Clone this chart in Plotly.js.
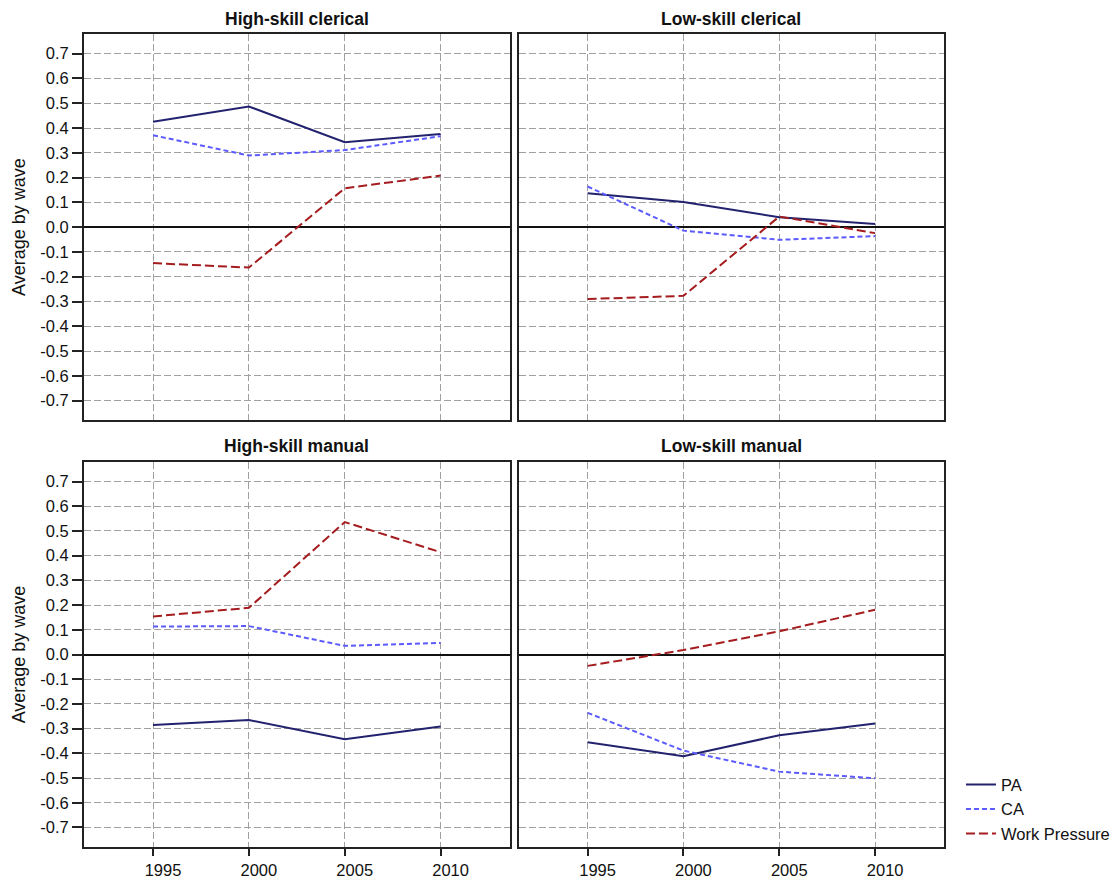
<!DOCTYPE html>
<html>
<head>
<meta charset="utf-8">
<script src="https://cdn.plot.ly/plotly-3.0.1.min.js"></script>
<style>html,body{margin:0;padding:0;background:#fff;}#chart{width:1120px;height:880px;}</style>
</head>
<body>
<div id="chart"></div>
<script>
// ---- data ----
var years = [1995, 2000, 2005, 2010];
var seriesNames = ["PA", "CA", "Work Pressure"];
var panelTitles = ["High-skill clerical", "Low-skill clerical", "High-skill manual", "Low-skill manual"];

var hscPA = [0.425, 0.487, 0.343, 0.376];
var hscCA = [0.371, 0.289, 0.311, 0.367];
var hscWP = [-0.145, -0.163, 0.157, 0.208];

var lscPA = [0.137, 0.102, 0.040, 0.013];
var lscCA = [0.164, -0.014, -0.051, -0.036];
var lscWP = [-0.290, -0.277, 0.043, -0.024];

var hsmPA = [-0.285, -0.265, -0.343, -0.291];
var hsmCA = [0.113, 0.115, 0.035, 0.047];
var hsmWP = [0.154, 0.189, 0.536, 0.414];

var lsmPA = [-0.355, -0.412, -0.327, -0.279];
var lsmCA = [-0.236, -0.389, -0.474, -0.501];
var lsmWP = [-0.046, 0.018, 0.094, 0.181];

var yTickVals = [0.7, 0.6, 0.5, 0.4, 0.3, 0.2, 0.1, 0.0, -0.1, -0.2, -0.3, -0.4, -0.5, -0.6, -0.7];
var yTickText = ["0.7", "0.6", "0.5", "0.4", "0.3", "0.2", "0.1", "0.0", "-0.1", "-0.2", "-0.3", "-0.4", "-0.5", "-0.6", "-0.7"];
var yTitle = "Average by wave";

// ---- styles ----
var FONT = "Liberation Sans, Arial, sans-serif";
var seriesStyles = [
  {color: "#23226e", width: 2, dash: "solid"},
  {color: "#5b5bff", width: 2, dash: "5px,3px"},
  {color: "#a51c1f", width: 2, dash: "9px,4px"}
];
var panels = [
  [hscPA, hscCA, hscWP],
  [lscPA, lscCA, lscWP],
  [hsmPA, hsmCA, hsmWP],
  [lsmPA, lsmCA, lsmWP]
];

var traces = [];
panels.forEach(function (series, p) {
  var suf = p === 0 ? "" : String(p + 1);
  series.forEach(function (vals, s) {
    traces.push({
      type: "scatter", mode: "lines",
      x: years, y: vals,
      name: seriesNames[s],
      legendgroup: seriesNames[s],
      showlegend: p === 0,
      line: seriesStyles[s],
      xaxis: "x" + suf, yaxis: "y" + suf,
      hoverinfo: "x+y+name"
    });
  });
});

var xDomL = [0.075, 0.455], xDomR = [0.463, 0.843];
var yDomT = [0.5227, 0.961], yDomB = [0.0378, 0.4747];

function xAxis(domain, anchor, bottom) {
  return {
    domain: domain, anchor: anchor,
    range: [1991.4, 2013.6],
    tickvals: years, ticktext: years.map(String),
    showticklabels: bottom,
    ticks: bottom ? "outside" : "", ticklen: 7, tickwidth: 1.5, tickcolor: "#222",
    ticklabelshift: 10,
    showgrid: true, gridcolor: "#a0a0a0", gridwidth: 1.2, griddash: "7px,3px",
    zeroline: false,
    showline: true, mirror: true, linecolor: "#222", linewidth: 2,
    tickfont: {family: FONT, size: 16.5, color: "#111"},
    fixedrange: true
  };
}
function yAxis(domain, anchor, left) {
  var a = {
    domain: domain, anchor: anchor,
    range: [-0.778, 0.778],
    tickvals: yTickVals, ticktext: yTickText,
    showticklabels: left,
    ticks: left ? "outside" : "", ticklen: 10, tickwidth: 1.5, tickcolor: "#222",
    showgrid: true, gridcolor: "#a0a0a0", gridwidth: 1.2, griddash: "7px,3px",
    zeroline: true, zerolinecolor: "#111", zerolinewidth: 1.5,
    showline: true, mirror: true, linecolor: "#222", linewidth: 2,
    tickfont: {family: FONT, size: 16.5, color: "#111"},
    fixedrange: true
  };
  if (left) a.title = {text: yTitle, font: {family: FONT, size: 18, color: "#111"}, standoff: 10};
  return a;
}

var titlePos = [
  {x: (xDomL[0] + xDomL[1]) / 2, y: 1 - 19 / 880},
  {x: (xDomR[0] + xDomR[1]) / 2, y: 1 - 19 / 880},
  {x: (xDomL[0] + xDomL[1]) / 2, y: 1 - 446 / 880},
  {x: (xDomR[0] + xDomR[1]) / 2, y: 1 - 446 / 880}
];
var annotations = panelTitles.map(function (t, i) {
  return {
    text: "<b>" + t + "</b>", xref: "paper", yref: "paper",
    x: titlePos[i].x, y: titlePos[i].y, xanchor: "center", yanchor: "middle",
    showarrow: false, font: {family: FONT, size: 17.5, color: "#111"}
  };
});

var layout = {
  width: 1120, height: 880,
  margin: {l: 0, r: 0, t: 0, b: 0},
  paper_bgcolor: "#fff", plot_bgcolor: "#fff",
  font: {family: FONT, color: "#111"},
  showlegend: true,
  legend: {
    x: 0.858, y: 0.128, xanchor: "left", yanchor: "top",
    font: {family: FONT, size: 16.5, color: "#111"},
    bgcolor: "rgba(0,0,0,0)", borderwidth: 0, tracegroupgap: 0
  },
  xaxis: xAxis(xDomL, "y", false),
  xaxis2: xAxis(xDomR, "y2", false),
  xaxis3: xAxis(xDomL, "y3", true),
  xaxis4: xAxis(xDomR, "y4", true),
  yaxis: yAxis(yDomT, "x", true),
  yaxis2: yAxis(yDomT, "x2", false),
  yaxis3: yAxis(yDomB, "x3", true),
  yaxis4: yAxis(yDomB, "x4", false),
  annotations: annotations
};

Plotly.newPlot("chart", traces, layout, {displayModeBar: false, staticPlot: false});
</script>
</body>
</html>
